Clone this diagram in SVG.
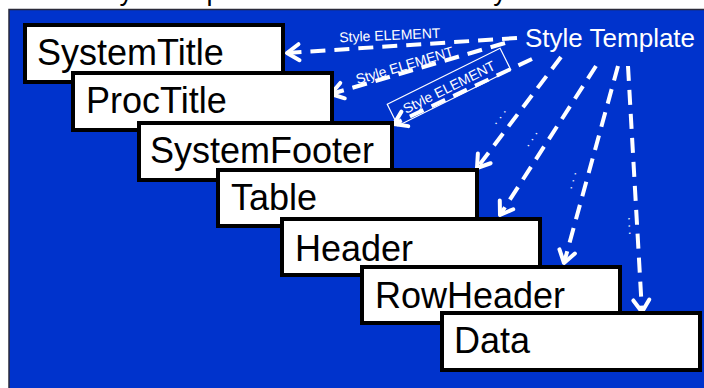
<svg xmlns="http://www.w3.org/2000/svg" width="704" height="388" viewBox="0 0 704 388">
  <defs>
    <style>
      .box rect { fill: #ffffff; stroke: #000000; stroke-width: 4; }
      .box text { font-family: "Liberation Sans", Arial, sans-serif; font-size: 36px; fill: #000000; }
      .conn { fill: none; stroke: #ffffff; stroke-width: 4; stroke-dasharray: 15 9; marker-end: url(#chev); }
      .lbl { font-family: "Liberation Sans", Arial, sans-serif; font-size: 14px; fill: #ffffff; text-anchor: middle; }
      .dots { font-family: "Liberation Sans", Arial, sans-serif; font-size: 13px; fill: #ffffff; text-anchor: middle; }
    </style>
    <marker id="chev" markerUnits="userSpaceOnUse" markerWidth="40" markerHeight="40" viewBox="-20 -20 40 40" refX="0" refY="0" orient="auto" overflow="visible">
      <path d="M-12,-8 L0,0 L-12,8" fill="none" stroke="#ffffff" stroke-width="4" stroke-linecap="round" stroke-linejoin="round"/>
    </marker>
  </defs>

  <rect x="0" y="0" width="704" height="388" fill="#ffffff"/>
  <!-- heading, sitting above the frame so only its lowest strokes show -->
  <text x="94" y="-0.5" font-family="Liberation Sans, Arial, sans-serif" font-size="27" fill="#000000">Style template is a collection of style ELEMENTS</text>

  <!-- blue panel -->
  <rect x="9" y="9.5" width="700" height="384" fill="#0033cc" stroke="#2a2a3a" stroke-width="1.5"/>

  <g id="connectors">
    <path class="conn" d="M517,38 L287,53"/>
    <path class="conn" d="M505,43 L331,94"/>
    <path class="conn" d="M532,59 L394,124"/>
    <path class="conn" d="M561,57 L477,168"/>
    <path class="conn" d="M596,66 L500,215"/>
    <path class="conn" d="M618,66 L564,263"/>
    <path class="conn" d="M628,66 L642,312"/>

    <text class="lbl" transform="translate(390,40) rotate(-2.5)">Style ELEMENT</text>
    <text class="lbl" transform="translate(406,70) rotate(-16.5)">Style ELEMENT</text>
    <g transform="translate(449,87) rotate(-26.4)">
      <rect x="-63" y="-12" width="126" height="24" fill="none" stroke="#ffffff" stroke-width="1.2"/>
      <text class="lbl" x="0" y="5">Style ELEMENT</text>
    </g>

    <text class="dots" transform="translate(501,118) rotate(-52.9)">. . .</text>
    <text class="dots" transform="translate(533,140) rotate(-57.2)">. . .</text>
    <text class="dots" transform="translate(574,181) rotate(-74.7)">. . .</text>
    <text class="dots" transform="translate(630,226) rotate(-93.3)">. . .</text>
  </g>

  <g id="node-systemtitle" class="box">
    <rect x="25" y="25" width="258" height="57"/>
    <text x="37" y="65">SystemTitle</text>
  </g>
  <g id="node-proctitle" class="box">
    <rect x="73" y="73" width="259" height="57"/>
    <text x="86" y="113">ProcTitle</text>
  </g>
  <g id="node-systemfooter" class="box">
    <rect x="139" y="123" width="253" height="57"/>
    <text x="150" y="163">SystemFooter</text>
  </g>
  <g id="node-table" class="box">
    <rect x="218" y="170" width="259" height="56"/>
    <text x="231" y="210">Table</text>
  </g>
  <g id="node-header" class="box">
    <rect x="282" y="219" width="258" height="56"/>
    <text x="295" y="261">Header</text>
  </g>
  <g id="node-rowheader" class="box">
    <rect x="362" y="267" width="258" height="56"/>
    <text x="375" y="308">RowHeader</text>
  </g>
  <g id="node-data" class="box">
    <rect x="442" y="313" width="258" height="57"/>
    <text x="454" y="353">Data</text>
  </g>

  <text x="525" y="47" font-family="Liberation Sans, Arial, sans-serif" font-size="26" fill="#ffffff">Style Template</text>
</svg>
